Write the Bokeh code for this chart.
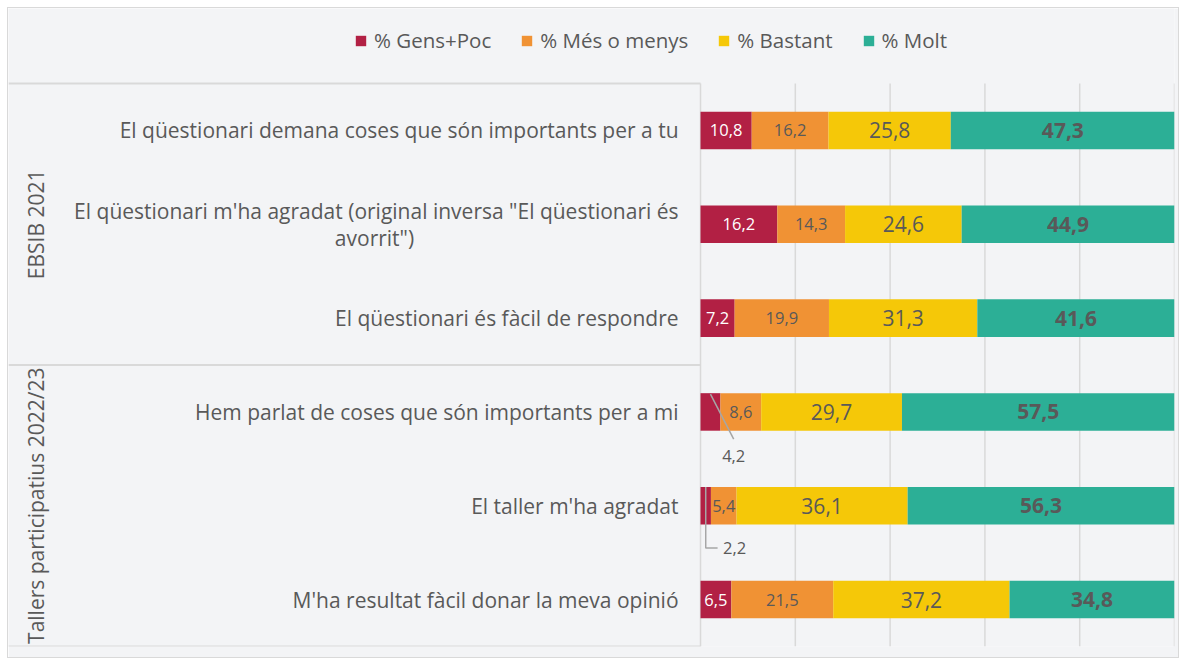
import numpy as np
from bokeh.plotting import figure
from bokeh.models import ColumnDataSource, Range1d, Legend, LegendItem
from bokeh.core.properties import value
from bokeh.embed import file_html
from bokeh.resources import INLINE

# ---------------- data ----------------
items = [
    "El qüestionari demana coses que són importants per a tu",
    "El qüestionari m'ha agradat (original inversa \"El qüestionari és\navorrit\")",
    "El qüestionari és fàcil de respondre",
    "Hem parlat de coses que són importants per a mi",
    "El taller m'ha agradat",
    "M'ha resultat fàcil donar la meva opinió",
]
groups = ["EBSIB 2021", "Tallers participatius 2022/23"]
group_of_item = [0, 0, 0, 1, 1, 1]
series = ["% Gens+Poc", "% Més o menys", "% Bastant", "% Molt"]
gens_poc = [10.8, 16.2, 7.2, 4.2, 2.2, 6.5]
mes_o_menys = [16.2, 14.3, 19.9, 8.6, 5.4, 21.5]
bastant = [25.8, 24.6, 31.3, 29.7, 36.1, 37.2]
molt = [47.3, 44.9, 41.6, 57.5, 56.3, 34.8]
x_ticks = [0, 20, 40, 60, 80, 100]

colors = ["#B22044", "#F09234", "#F5C808", "#2CAF96"]
BG = "#F3F4F6"
GRID = "#D9D9D9"
TXT = "#595959"
FONT = "Open Sans"
XMIN = -146
TOP = -0.8   # room above the bars for the legend

keys = ["gens_poc", "mes_o_menys", "bastant", "molt"]
vals = [gens_poc, mes_o_menys, bastant, molt]
n = len(items)
ypos = np.arange(n) + 0.5

src = ColumnDataSource(dict(y=ypos, **{k: v for k, v in zip(keys, vals)}))

p = figure(width=1172, height=651, output_backend="svg", toolbar_location=None,
           x_range=Range1d(XMIN, 100), y_range=Range1d(n, TOP),
           min_border_left=0, min_border_right=6, min_border_top=0, min_border_bottom=13)
p.background_fill_color = BG
p.border_fill_color = BG
p.outline_line_color = None
p.xaxis.visible = False
p.yaxis.visible = False
p.xgrid.visible = False
p.ygrid.visible = False
p.styles = {"border": "1px solid #D9D9D9", "margin-left": "7px", "margin-top": "7px"}

# vertical gridlines (only over the bar area)
p.segment(x0=x_ticks, y0=[0] * len(x_ticks), x1=x_ticks, y1=[n] * len(x_ticks),
          line_color=GRID, line_width=1.5)

renderers = p.hbar_stack(keys, y="y", height=0.4, color=colors, source=src, line_width=0)

# ---------------- data labels ----------------
arr = np.array(vals)  # series x items
cum = np.cumsum(arr, axis=0)
left = cum - arr
centers = left + arr / 2
fmt = lambda v: f"{v:.1f}".replace(".", ",")

label_styles = [
    dict(text_color="#FFFFFF", text_font_size="16.5px", text_font_style="normal"),
    dict(text_color=TXT, text_font_size="16.5px", text_font_style="normal"),
    dict(text_color=TXT, text_font_size="21px", text_font_style="normal"),
    dict(text_color=TXT, text_font_size="21px", text_font_style="bold"),
]
small = 5.0
for s in range(4):
    inside = [i for i in range(n) if arr[s, i] >= small]
    p.text(x=[centers[s, i] for i in inside], y=[ypos[i] for i in inside],
           text=[fmt(arr[s, i]) for i in inside], text_align="center",
           text_baseline="middle", text_font=value(FONT), **label_styles[s])

# small values: labels outside with leader lines
outs = [i for i in range(n) if arr[0, i] < small]
for k, i in enumerate(outs):
    cx = centers[0, i]
    if k == 0:
        p.segment(x0=[cx], y0=[ypos[i] - 0.19], x1=[cx + 4.9], y1=[ypos[i] + 0.29],
                  line_color="#A6A6A6", line_width=1.5)
        p.text(x=[cx + 4.9], y=[ypos[i] + 0.47], text=[fmt(arr[0, i])], text_align="center",
               text_baseline="middle", text_font=value(FONT), text_font_size="16.5px", text_color=TXT)
    else:
        p.line(x=[cx, cx, cx + 2.5], y=[ypos[i] - 0.2, ypos[i] + 0.45, ypos[i] + 0.45],
               line_color="#A6A6A6", line_width=1.5)
        p.text(x=[cx + 6.1], y=[ypos[i] + 0.45], text=[fmt(arr[0, i])], text_align="center",
               text_baseline="middle", text_font=value(FONT), text_font_size="16.5px", text_color=TXT)

# ---------------- category labels ----------------
for i, lab in enumerate(items):
    lines = lab.split("\n")
    if len(lines) == 1:
        p.text(x=[0], y=[ypos[i]], text=[lab], x_offset=-22, text_align="right",
               text_baseline="middle", text_font=value(FONT), text_font_size="21px", text_color=TXT)
    else:
        p.text(x=[0], y=[ypos[i] - 0.145], text=[lines[0]], x_offset=-22, text_align="right",
               text_baseline="middle", text_font=value(FONT), text_font_size="21px", text_color=TXT)
        p.text(x=[0], y=[ypos[i] + 0.145], text=[lines[1]], x_offset=-326, text_align="center",
               text_baseline="middle", text_font=value(FONT), text_font_size="21px", text_color=TXT)

# group labels and separators
gidx = np.array(group_of_item)
gcenter = [ypos[gidx == g].mean() for g in range(len(groups))]
p.text(x=[XMIN] * len(groups), y=gcenter, text=groups, x_offset=27, angle=np.pi / 2,
       text_align="center", text_baseline="middle", text_font=value(FONT),
       text_font_size="21px", text_color=TXT)
bounds = [0] + [int(np.sum(gidx <= g)) for g in range(len(groups))]
p.segment(x0=[XMIN] * len(bounds), y0=bounds, x1=[0] * len(bounds), y1=bounds,
          line_color=GRID, line_width=2)

# ---------------- legend ----------------
legend = Legend(items=[LegendItem(label=series[s], renderers=[renderers[s]]) for s in range(4)],
                orientation="horizontal", location=(346, 592),
                background_fill_alpha=0, border_line_color=None,
                glyph_width=13, glyph_height=13, label_standoff=7, spacing=29,
                label_text_font=FONT, label_text_font_size="20.5px", label_text_color=TXT,
                padding=0, margin=0)
p.add_layout(legend)

open("out.html", "w").write(file_html(p, INLINE))
